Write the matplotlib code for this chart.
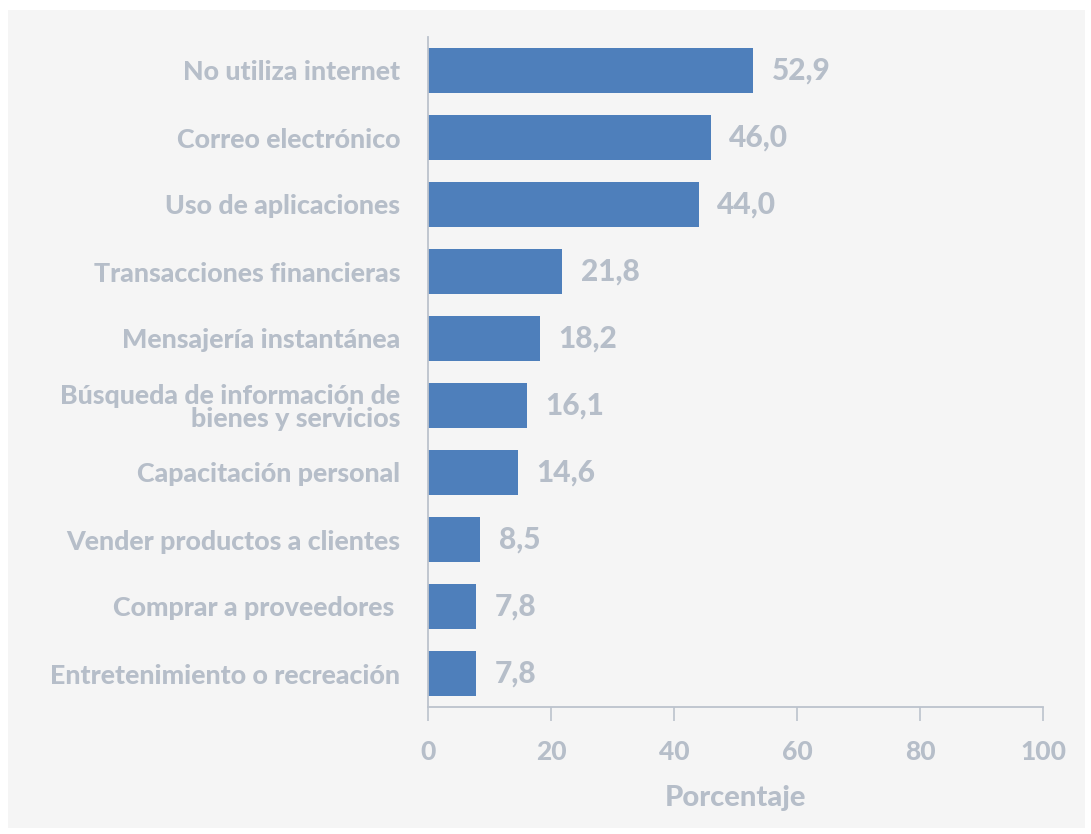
import matplotlib.pyplot as plt
from matplotlib.patches import Rectangle

categorias = [
    "No utiliza internet",
    "Correo electrónico",
    "Uso de aplicaciones",
    "Transacciones financieras",
    "Mensajería instantánea",
    "Búsqueda de información de\nbienes y servicios",
    "Capacitación personal",
    "Vender productos a clientes",
    "Comprar a proveedores ",
    "Entretenimiento o recreación",
]
valores = [52.9, 46.0, 44.0, 21.8, 18.2, 16.1, 14.6, 8.5, 7.8, 7.8]
xticks = [0, 20, 40, 60, 80, 100]

BAR = "#4e7fbb"
TXT = "#b6bec9"
LINE = "#bcc3cd"
BG = "#f5f5f5"
W = 900

plt.rcParams["font.family"] = ["Lato", "DejaVu Sans"]

fig = plt.figure(figsize=(10.91, 8.34), dpi=100, facecolor="white")
# gray panel behind the chart
fig.patches.append(Rectangle((8 / 1091, 6 / 834), 1077 / 1091, 818 / 834,
                             transform=fig.transFigure, facecolor=BG,
                             edgecolor="none", zorder=-10))
ax = fig.add_axes([428 / 1091, 127 / 834, 615 / 1091, 670 / 834])
ax.set_facecolor("none")

pos = list(range(len(categorias)))
ax.barh(pos, valores, height=0.66, color=BAR)
for y, v in zip(pos, valores):
    ax.text(v + 3, y, f"{v:.1f}".replace(".", ","), va="center", ha="left",
            fontsize=21.5, color=TXT, fontweight=W)

ax.set_xlim(0, 100)
ax.set_ylim(len(categorias) - 0.5, -0.5)
ax.set_yticks(pos)
ax.set_yticklabels(categorias, fontsize=19.3, color=TXT, fontweight=W,
                   linespacing=0.98)
ax.tick_params(axis="y", length=0, pad=20)
ax.set_xticks(xticks)
ax.set_xticklabels([str(t) for t in xticks], fontsize=19, color=TXT,
                   fontweight=W)
ax.tick_params(axis="x", length=10, width=1.2, color=LINE, pad=14)
ax.set_xlabel("Porcentaje", fontsize=21, color=TXT, fontweight=W,
              labelpad=15)

for s in ["top", "right"]:
    ax.spines[s].set_visible(False)
for s in ["left", "bottom"]:
    ax.spines[s].set_color(LINE)
    ax.spines[s].set_linewidth(1.3)

fig.savefig("out.png", dpi=100, facecolor="white")
